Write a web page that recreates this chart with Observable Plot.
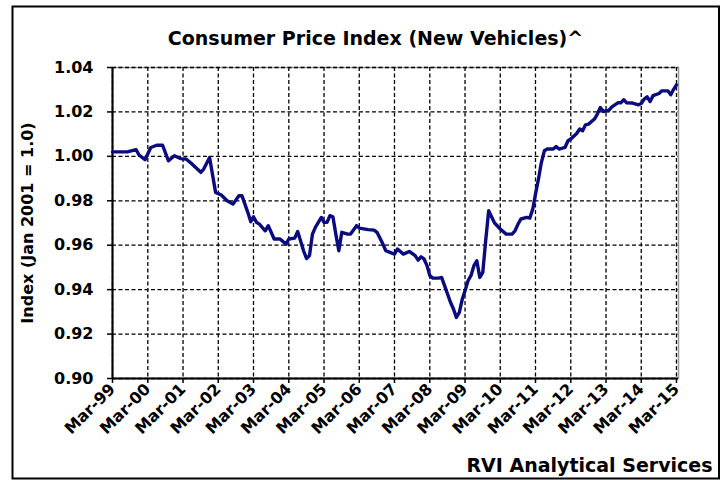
<!DOCTYPE html>
<html><head><meta charset="utf-8">
<script src="https://cdn.jsdelivr.net/npm/d3@7"></script>
<script src="https://cdn.jsdelivr.net/npm/@observablehq/plot@0.6"></script>
<style>
html,body{margin:0;padding:0;background:#fff;}
</style></head><body><div id="chart"></div>
<script>
const title = "Consumer Price Index (New Vehicles)^";
const yLabel = "Index (Jan 2001 = 1.0)";
const caption = "RVI Analytical Services";

const months = [
  "1999-03","1999-08","1999-11","1999-12","2000-02","2000-04","2000-06","2000-08","2000-10","2000-12",
  "2001-02","2001-04","2001-06","2001-09","2001-10","2001-12","2002-02","2002-04","2002-06","2002-08",
  "2002-10","2002-11","2003-01","2003-02","2003-03","2003-04","2003-05","2003-07","2003-08","2003-10",
  "2003-12","2004-02","2004-03","2004-05","2004-06","2004-08","2004-09","2004-10","2004-11","2004-12",
  "2005-02","2005-03","2005-04","2005-05","2005-06","2005-07","2005-08","2005-09","2005-11","2005-12",
  "2006-02","2006-03","2006-06","2006-08","2006-09","2006-11","2006-12","2007-01","2007-03","2007-04",
  "2007-06","2007-08","2007-10","2007-11","2007-12","2008-01","2008-02","2008-03","2008-04","2008-06",
  "2008-07","2008-08","2008-10","2008-11","2008-12","2009-01","2009-02","2009-03","2009-04","2009-05",
  "2009-06","2009-07","2009-08","2009-09","2009-10","2009-11","2010-01","2010-03","2010-05","2010-07",
  "2010-08","2010-09","2010-10","2010-12","2011-01","2011-02","2011-03","2011-04","2011-05","2011-06",
  "2011-07","2011-09","2011-10","2011-11","2012-01","2012-02","2012-03","2012-05","2012-06","2012-07",
  "2012-08","2012-09","2012-11","2012-12","2013-01","2013-02","2013-04","2013-05","2013-07","2013-08",
  "2013-09","2013-10","2013-12","2014-02","2014-03","2014-04","2014-05","2014-06","2014-07","2014-09",
  "2014-10","2014-12","2015-01","2015-02","2015-03"
];
const values = [
  1.002,1.002,1.003,1.0006,0.9985,1.004,1.005,1.005,0.998,1.0003,
  0.999,0.9988,0.9966,0.9928,0.9943,0.9995,0.9838,0.9826,0.980,0.9785,
  0.9823,0.9823,0.9748,0.9706,0.9728,0.9703,0.9695,0.9665,0.9688,0.9628,
  0.9628,0.9605,0.9628,0.9632,0.9662,0.9575,0.954,0.9553,0.965,0.968,
  0.9725,0.9703,0.9703,0.9733,0.9728,0.965,0.9575,0.9658,0.965,0.965,
  0.9688,0.9677,0.967,0.9668,0.9658,0.9605,0.9575,0.957,0.956,0.9583,
  0.956,0.9572,0.9553,0.9533,0.9548,0.9538,0.9508,0.9463,0.9452,0.9452,
  0.9455,0.9418,0.9343,0.9313,0.9275,0.9298,0.9358,0.9395,0.944,0.9463,
  0.9508,0.953,0.9455,0.9478,0.962,0.9755,0.970,0.9673,0.965,0.965,
  0.9665,0.9695,0.9718,0.9725,0.9722,0.9763,0.983,0.9898,0.9972,1.0025,
  1.0033,1.0033,1.0044,1.0033,1.004,1.007,1.0078,1.0103,1.0123,1.0115,
  1.0142,1.0145,1.0168,1.019,1.022,1.0202,1.0208,1.0223,1.0241,1.0241,
  1.0255,1.0241,1.024,1.0232,1.0238,1.0258,1.0268,1.0247,1.0273,1.0283,
  1.0295,1.0295,1.0277,1.0303,1.0322
];
const yTicks = [0.90,0.92,0.94,0.96,0.98,1.00,1.02,1.04];
const xTickYears = [1999,2000,2001,2002,2003,2004,2005,2006,2007,2008,2009,2010,2011,2012,2013,2014,2015];

const data = months.map((m, i) => ({date: new Date(m + "-01T00:00:00Z"), value: values[i]}));
const xTicks = xTickYears.map(y => new Date(Date.UTC(y, 2, 1)));
const xStart = new Date(Date.UTC(1999, 2, 1));
const xEnd = new Date(Date.UTC(2015, 2, 22));

const FONT = "'DejaVu Sans', 'Liberation Sans', Arial, sans-serif";

const chart = Plot.plot({
  width: 725, height: 480,
  marginLeft: 112, marginRight: 47, marginTop: 67, marginBottom: 102,
  style: {fontFamily: FONT, fontWeight: "bold", background: "#fff", color: "#000"},
  x: {type: "utc", domain: [xStart, xEnd]},
  y: {domain: [0.90, 1.04]},
  marks: [
    Plot.frame({stroke: "#9a9a9a", strokeWidth: 1.5}),
    Plot.gridX(xTicks, {stroke: "#000", strokeOpacity: 1, strokeWidth: 1.3, strokeDasharray: "4,2.5"}),
    Plot.gridY(yTicks, {stroke: "#000", strokeOpacity: 1, strokeWidth: 1.3, strokeDasharray: "4,2.5"}),
    Plot.ruleX([xStart], {stroke: "#000", strokeWidth: 2}),
    Plot.ruleY([0.90], {stroke: "#000", strokeWidth: 2}),
    Plot.line(data, {x: "date", y: "value", stroke: "#0b0b80", strokeWidth: 3.4}),
    Plot.axisX(xTicks, {
      label: null, tickSize: 5, tickRotate: -45, fontSize: 16, tickPadding: 3,
      tickFormat: d => "Mar-" + String(d.getUTCFullYear() % 100).padStart(2, "0"),
      stroke: "#000", strokeWidth: 1.5
    }),
    Plot.axisY(yTicks, {
      label: null, tickSize: 5, fontSize: 16, tickPadding: 14,
      tickFormat: d => d.toFixed(2), stroke: "#000", strokeWidth: 1.5
    }),
    Plot.text([title], {frameAnchor: "top", lineAnchor: "middle", dx: -20, dy: -29, fontSize: 19, fontWeight: "bold"}),
    Plot.text([yLabel], {frameAnchor: "left", rotate: -90, textAnchor: "middle", lineAnchor: "middle", dx: -85, fontSize: 16, fontWeight: "bold"}),
    Plot.text([caption], {frameAnchor: "bottom-right", textAnchor: "end", lineAnchor: "middle", dx: 34, dy: 87, fontSize: 19, fontWeight: "bold"})
  ]
});

d3.select(chart).append("rect")
  .attr("x", 12.5).attr("y", 6.5).attr("width", 706.5).attr("height", 472)
  .attr("fill", "none").attr("stroke", "#000").attr("stroke-width", 2);

document.getElementById("chart").appendChild(chart);
</script>
</body></html>
